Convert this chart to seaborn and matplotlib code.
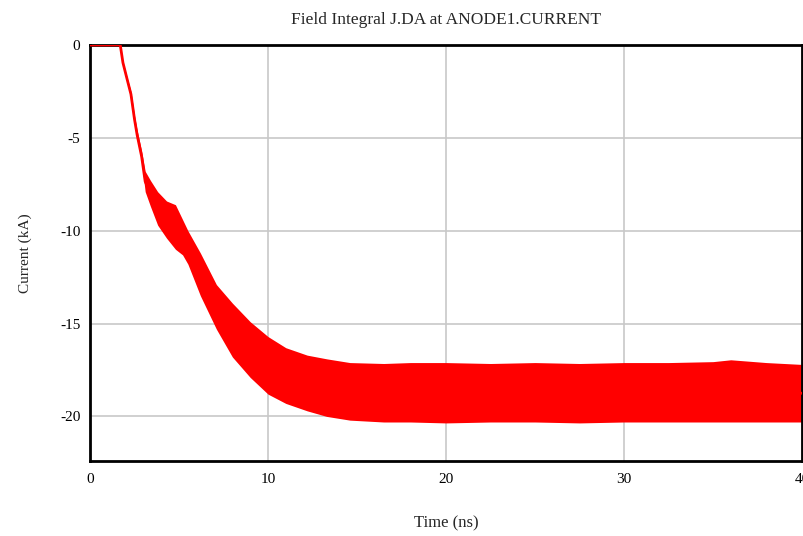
import numpy as np
import pandas as pd
import matplotlib
matplotlib.use("Agg")
import matplotlib.pyplot as plt
import seaborn as sns

title = "Field Integral J.DA at ANODE1.CURRENT"
x_label = "Time (ns)"
y_label = "Current (kA)"
x_ticks = [0, 10, 20, 30, 40]
y_ticks = [0, -5, -10, -15, -20]

# envelope of the (very fast) oscillating current
time_ns = [0.0, 1.7, 1.85, 2.1, 2.3, 2.5, 2.65, 2.9, 3.1, 3.4, 3.8, 4.3, 4.8,
           5.2, 5.5, 6.2, 7.1, 8.0, 9.0, 10.0, 11.0, 12.2, 13.3, 14.6, 16.5,
           18.0, 20.0, 22.5, 25.0, 27.5, 30.0, 32.5, 35.0, 36.0, 38.0, 40.0]
upper_kA = [0.0, 0.0, -0.9, -1.8, -2.5, -3.8, -4.6, -5.7, -6.8, -7.3, -7.9, -8.4,
            -8.6, -9.4, -10.0, -11.2, -12.9, -13.9, -14.9, -15.7, -16.3, -16.7,
            -16.9, -17.1, -17.15, -17.1, -17.1, -17.15, -17.1, -17.15, -17.1,
            -17.1, -17.05, -16.95, -17.1, -17.2]
lower_kA = [0.0, 0.0, -1.0, -2.0, -2.8, -4.2, -5.1, -6.3, -7.9, -8.7, -9.7, -10.4,
            -11.0, -11.3, -11.8, -13.5, -15.3, -16.8, -17.9, -18.8, -19.3, -19.7,
            -20.0, -20.2, -20.3, -20.3, -20.35, -20.3, -20.3, -20.35, -20.3,
            -20.3, -20.3, -20.3, -20.3, -20.3]

df = pd.DataFrame({"Time": time_ns + time_ns, "Current": upper_kA + lower_kA})

sns.set_style("white")
plt.rcParams["font.family"] = ["Liberation Serif", "DejaVu Serif"]

fig = plt.figure(figsize=(8.04, 5.36), dpi=100)
ax = fig.add_axes([90 / 804, 75 / 536, 712 / 804, 416 / 536])

sns.lineplot(data=df, x="Time", y="Current", estimator="mean",
             errorbar=("pi", 100), color="#ff0000", linewidth=2,
             err_kws={"alpha": 1, "linewidth": 0}, ax=ax, zorder=3)

ax.set_xlim(0, 40)
ax.set_ylim(-22.4, 0)
ax.set_xticks(x_ticks)
ax.set_yticks(y_ticks)
ax.set_xticklabels([str(v) for v in x_ticks])
ax.set_yticklabels([str(v) for v in y_ticks])
ax.grid(True, color="#c8c8c8", linewidth=1.2, zorder=0)
ax.set_axisbelow(True)
for s in ax.spines.values():
    s.set_color("black")
    s.set_linewidth(2)
ax.tick_params(direction="out", length=3, width=1, color="#555555",
               labelsize=11, labelcolor="black")
ax.tick_params(axis="x", pad=5.5)
ax.tick_params(axis="y", pad=4)

ax.set_title(title, fontsize=12.5, pad=15)
ax.set_xlabel(x_label, fontsize=12, labelpad=21)
ax.set_ylabel(y_label, fontsize=11, labelpad=20)

fig.savefig("out.png", dpi=100)
